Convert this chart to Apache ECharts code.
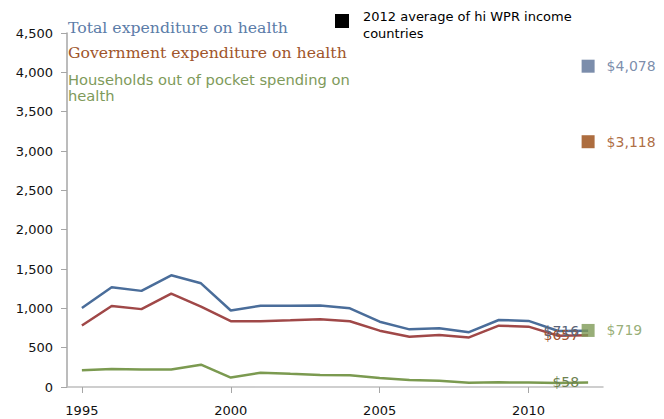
<!DOCTYPE html>
<html>
<head>
<meta charset="utf-8">
<script src="https://cdn.jsdelivr.net/npm/echarts@6/dist/echarts.min.js"></script>
<style>html,body{margin:0;padding:0;background:#fff}#c{width:664px;height:419px}</style>
</head>
<body>
<div id="c"></div>
<script>
const years = ['1995','1996','1997','1998','1999','2000','2001','2002','2003','2004','2005','2006','2007','2008','2009','2010','2011','2012'];
const totalExp = [1005,1267,1222,1420,1318,972,1034,1033,1035,1000,830,733,748,697,852,840,712,716];
const govExp = [782,1030,990,1186,1021,837,835,848,862,835,716,640,661,630,780,767,652,657];
const householdExp = [214,229,224,222,284,120,182,167,154,150,114,90,78,54,60,56,51,58];
const avgTotal = 4078;
const avgGov = 3118;
const avgHousehold = 719;
const yTicks = [0,500,1000,1500,2000,2500,3000,3500,4000,4500];

const chart = echarts.init(document.getElementById('c'), null, {renderer: 'svg'});
const last = years.length - 1;
const fmt = v => '$' + v.toLocaleString('en-US');
const FONT = 'DejaVu Sans';

function lineSeries(name, data, color, labelColor) {
  return {
    name, type: 'line', data, symbol: 'circle', symbolSize: 0, showSymbol: true, showAllSymbol: true,
    lineStyle: {color, width: 2.5}, itemStyle: {color},
    label: {show: true, position: 'left', distance: 9, fontFamily: FONT, fontSize: 14,
      color: labelColor, formatter: p => p.dataIndex === last ? fmt(p.value) : ''},
    labelLayout: {hideOverlap: false},
    emphasis: {disabled: true},
    z: 2
  };
}
function avgSeries(name, value, color) {
  const d = years.map((y, i) => i === last ? value : null);
  return {
    name, type: 'scatter', data: d, symbol: 'rect', symbolSize: 13,
    itemStyle: {color},
    label: {show: true, position: 'right', distance: 12, fontFamily: FONT, fontSize: 14,
      color, formatter: p => fmt(p.value)},
    z: 5
  };
}

chart.setOption({
  animation: false,
  grid: {left: 67, right: 61, top: 33, bottom: 32},
  xAxis: {
    type: 'category', data: years, boundaryGap: true,
    axisLine: {lineStyle: {color: '#BFBFBF', width: 1.5}},
    axisTick: {show: true, alignWithLabel: true, interval: 4, length: 6, lineStyle: {color: '#A6A6A6'}},
    axisLabel: {interval: 4, margin: 17, color: '#111', fontFamily: FONT, fontSize: 13},
    splitLine: {show: false}
  },
  yAxis: {
    type: 'value', min: 0, max: 4500, interval: 500,
    axisLine: {show: true, lineStyle: {color: '#A6A6A6', width: 1.5}},
    axisTick: {show: true, length: 6, lineStyle: {color: '#A6A6A6'}},
    axisLabel: {margin: 14, color: '#111', fontFamily: FONT, fontSize: 13,
      formatter: v => yTicks.includes(v) ? v.toLocaleString('en-US') : ''},
    splitLine: {show: false}
  },
  series: [
    lineSeries('Households out of pocket spending on health', householdExp, '#7B9A50', '#6E8250'),
    lineSeries('Government expenditure on health', govExp, '#A04848', '#A0522D'),
    lineSeries('Total expenditure on health', totalExp, '#4A6D9A', '#5A6478'),
    avgSeries('avg total', avgTotal, '#5A7096'),
    avgSeries('avg gov', avgGov, '#99480F'),
    avgSeries('avg household', avgHousehold, '#7E9A56')
  ],
  graphic: [
    {type: 'text', x: 68, y: 27, style: {text: 'Total expenditure on health', font: '15.7px "DejaVu Serif"', fill: '#5B7CA8', verticalAlign: 'middle'}},
    {type: 'text', x: 68, y: 52, style: {text: 'Government expenditure on health', font: '15.7px "DejaVu Serif"', fill: '#A0552A', verticalAlign: 'middle'}},
    {type: 'text', x: 68, y: 79, style: {text: 'Households out of pocket spending on', font: '14.7px "DejaVu Sans"', fill: '#7E9A5A', verticalAlign: 'middle'}},
    {type: 'text', x: 68, y: 95, style: {text: 'health', font: '14.7px "DejaVu Sans"', fill: '#7E9A5A', verticalAlign: 'middle'}},
    {type: 'rect', shape: {x: 335, y: 14, width: 14, height: 14}, style: {fill: '#000'}},
    {type: 'text', x: 363, y: 16, style: {text: '2012 average of hi WPR income', font: '13px "DejaVu Sans"', fill: '#000', verticalAlign: 'middle'}},
    {type: 'text', x: 363, y: 33, style: {text: 'countries', font: '13px "DejaVu Sans"', fill: '#000', verticalAlign: 'middle'}}
  ]
});
</script>
</body>
</html>
